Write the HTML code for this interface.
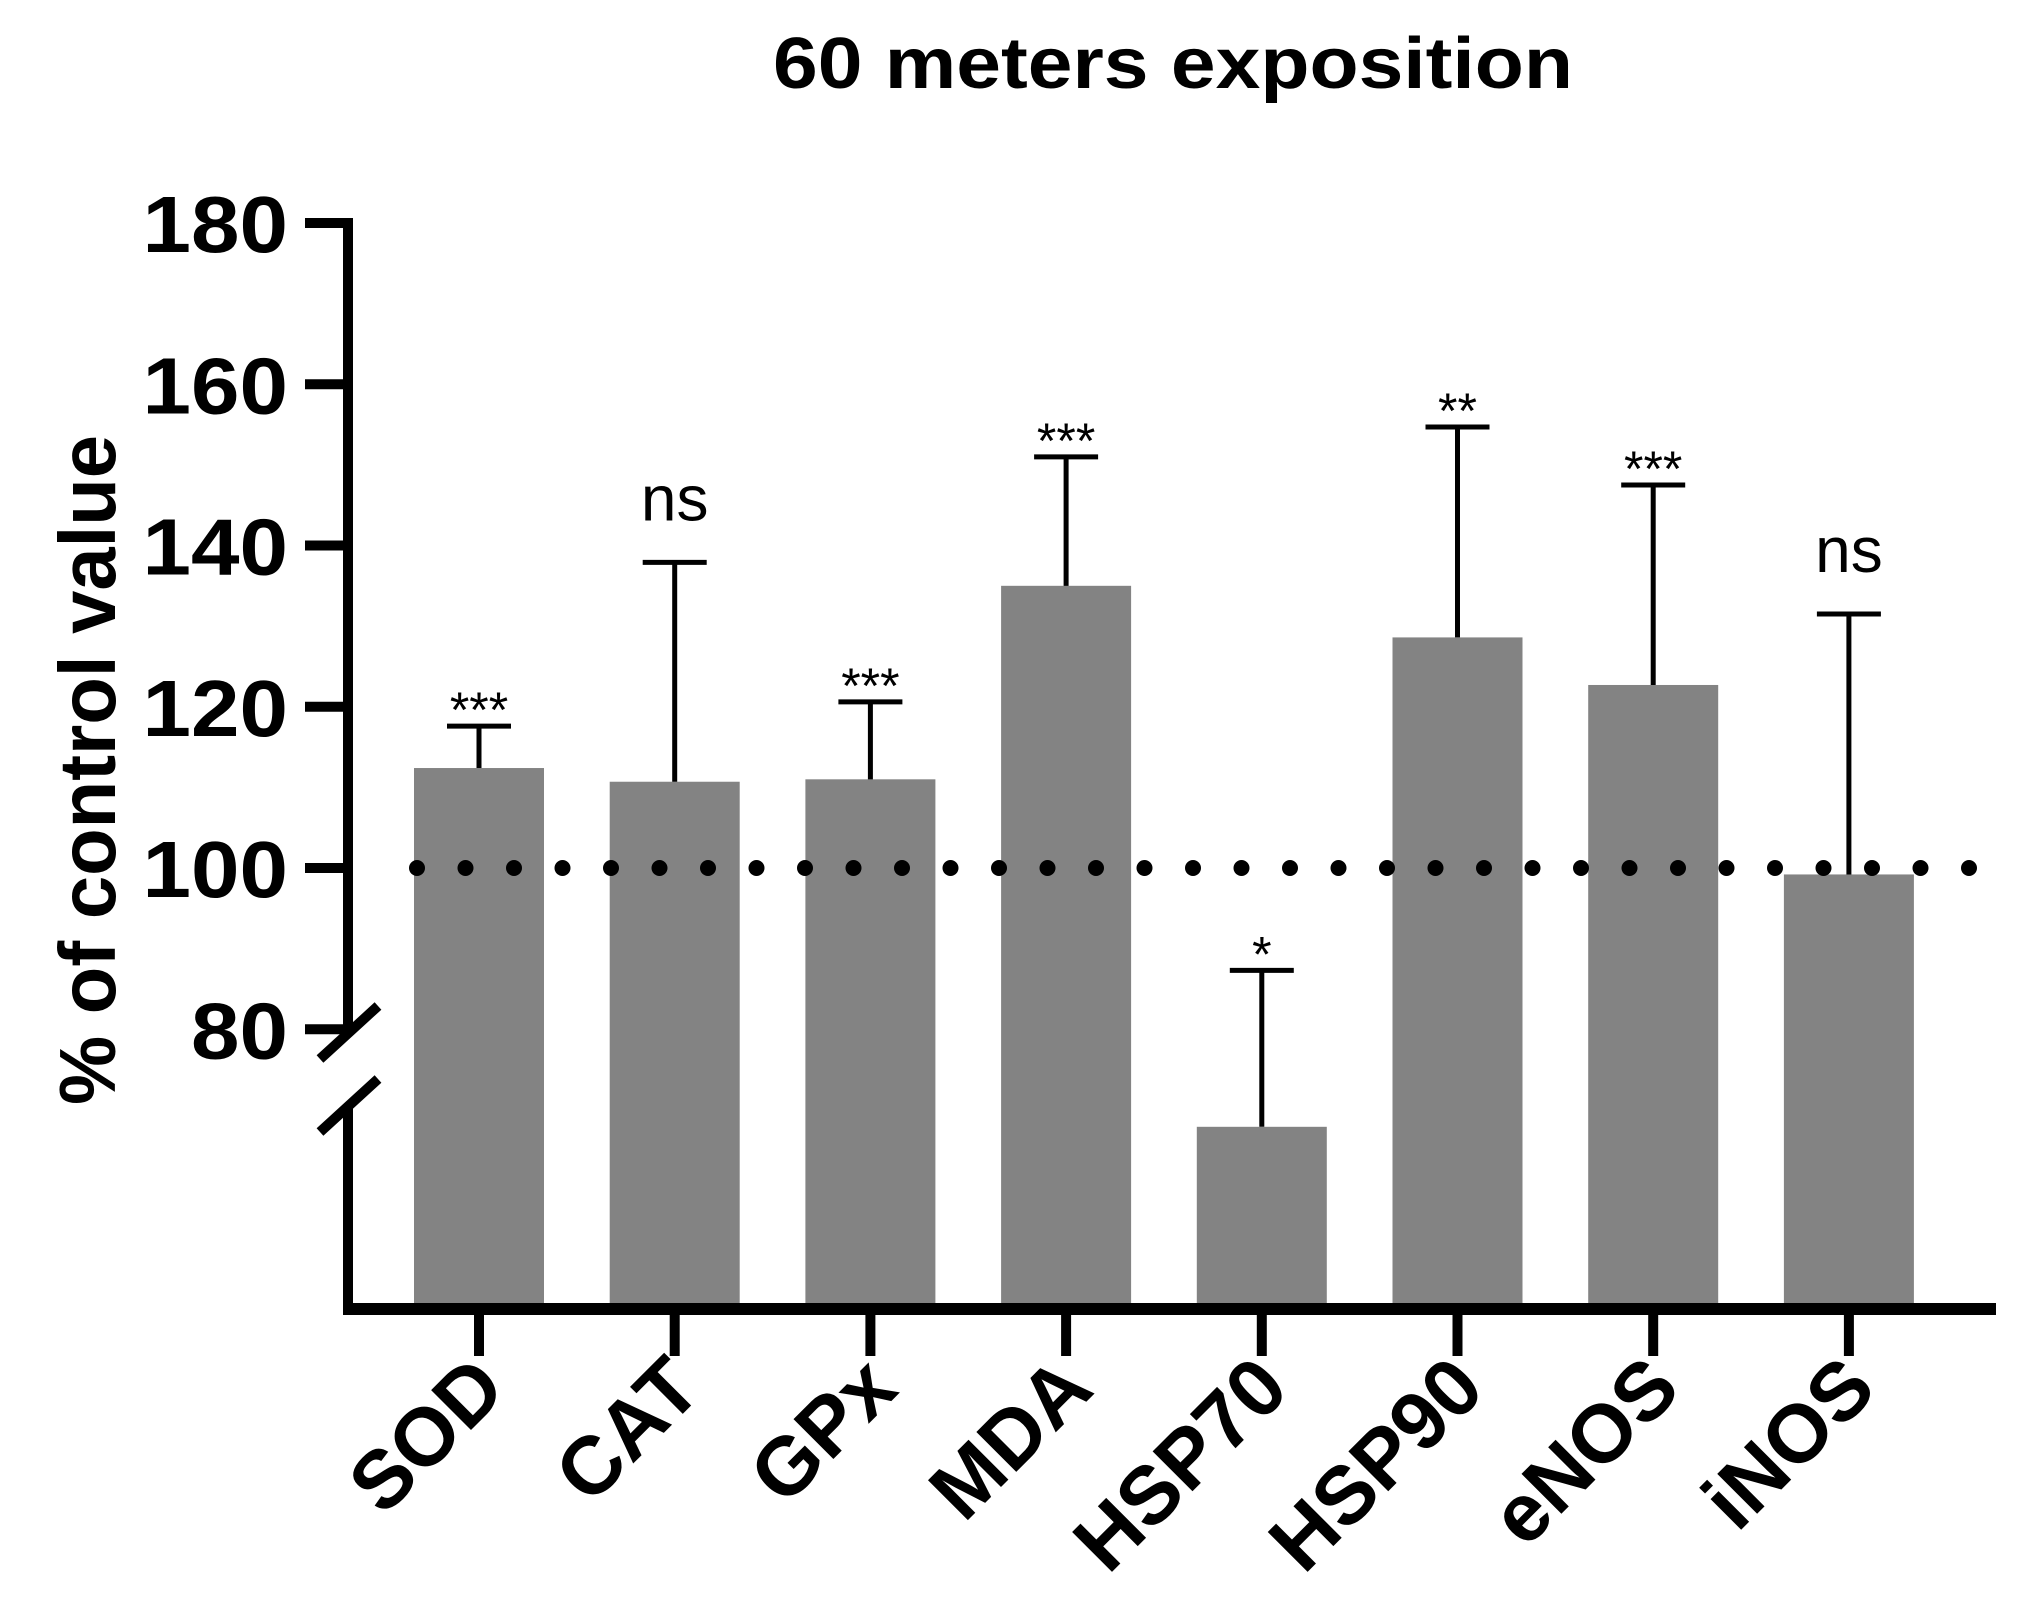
<!DOCTYPE html>
<html><head><meta charset="utf-8"><style>
html,body{margin:0;padding:0;background:#fff;}
svg{display:block;font-family:"Liberation Sans",Arial,sans-serif;}
</style></head><body>
<svg id="chart" width="2027" height="1618" viewBox="0 0 2027 1618" xmlns="http://www.w3.org/2000/svg">
<text x="1173" y="88" text-anchor="middle" font-size="72" font-weight="bold" textLength="800" lengthAdjust="spacingAndGlyphs">60 meters exposition</text>
<text transform="translate(115,770) rotate(-90)" text-anchor="middle" font-size="80" font-weight="bold" textLength="670" lengthAdjust="spacingAndGlyphs">% of control value</text>
<g id="plot"></g>
</svg>
<script>
const categories = ["SOD","CAT","GPx","MDA","HSP70","HSP90","eNOS","iNOS"];
const means = [112.4,110.7,111.0,135.0,67.9,128.6,122.7,99.2];
const errTops = [117.6,137.9,120.6,151.0,87.3,154.7,147.5,131.5];
const sigLabels = ["***","ns","***","***","*","**","***","ns"];
const yTicks = [80,100,120,140,160,180];
const refValue = 100;

const NS = "http://www.w3.org/2000/svg";
const g = document.getElementById('plot');
function y(v){ return 868 - (v - 100) * 8.0625; }
function x(i){ return 479 + i * 195.7; }
const baseY = 1303, axisX = 348;
function mk(tag, attrs){ const e=document.createElementNS(NS,tag); for(const k in attrs) e.setAttribute(k, attrs[k]); g.appendChild(e); return e; }

categories.forEach((c,i)=>{
  const top=y(means[i]);
  const b=mk('rect',{x:x(i)-65,y:top,width:130,height:baseY-top,fill:'#838383'});
  
  
  const et=y(errTops[i]);
  const l=mk('line',{x1:x(i),x2:x(i),y1:top,y2:et,stroke:'#000','stroke-width':5});
  
  
  const cap=mk('line',{x1:x(i)-32,x2:x(i)+32,y1:et,y2:et,stroke:'#000','stroke-width':5});
  
  
  const isNs = sigLabels[i]==='ns';
  const t=mk('text',{x:x(i),y:isNs?et-42:et+1,'text-anchor':'middle','font-size':isNs?64:50});
  t.textContent=sigLabels[i];
  
  
  const tk=mk('line',{x1:x(i),x2:x(i),y1:baseY,y2:1356,stroke:'#000','stroke-width':10});
  
  
  const lb=mk('text',{transform:`translate(${x(i)+30},1392) rotate(-45)`,'text-anchor':'end','font-size':82,'font-weight':'bold'});
  lb.textContent=c;
  
  
});

for(let dx=1969; dx>=400; dx-=48.5){
  const d=mk('circle',{cx:dx,cy:y(refValue),r:8,fill:'#000'});
  
  
}

const ya=mk('line',{x1:axisX,x2:axisX,y1:218,y2:1030,stroke:'#000','stroke-width':10});


const yb=mk('line',{x1:axisX,x2:axisX,y1:1105,y2:1314,stroke:'#000','stroke-width':10});


const br1=mk('line',{x1:320,y1:1059,x2:378,y2:1006,stroke:'#000','stroke-width':10});


const br2=mk('line',{x1:320,y1:1132,x2:378,y2:1079,stroke:'#000','stroke-width':10});


const xa=mk('line',{x1:343,x2:1996,y1:1309,y2:1309,stroke:'#000','stroke-width':12});



yTicks.forEach(v=>{
  const tk=mk('line',{x1:305,x2:axisX,y1:y(v),y2:y(v),stroke:'#000','stroke-width':10});
  
  
  const s=String(v);
  const t=mk('text',{x:288,y:y(v)+29,'text-anchor':'end','font-size':80,'font-weight':'bold',textLength:s.length*48.5,lengthAdjust:'spacingAndGlyphs'});
  t.textContent=s;
  
  
});
</script>
</body></html>
